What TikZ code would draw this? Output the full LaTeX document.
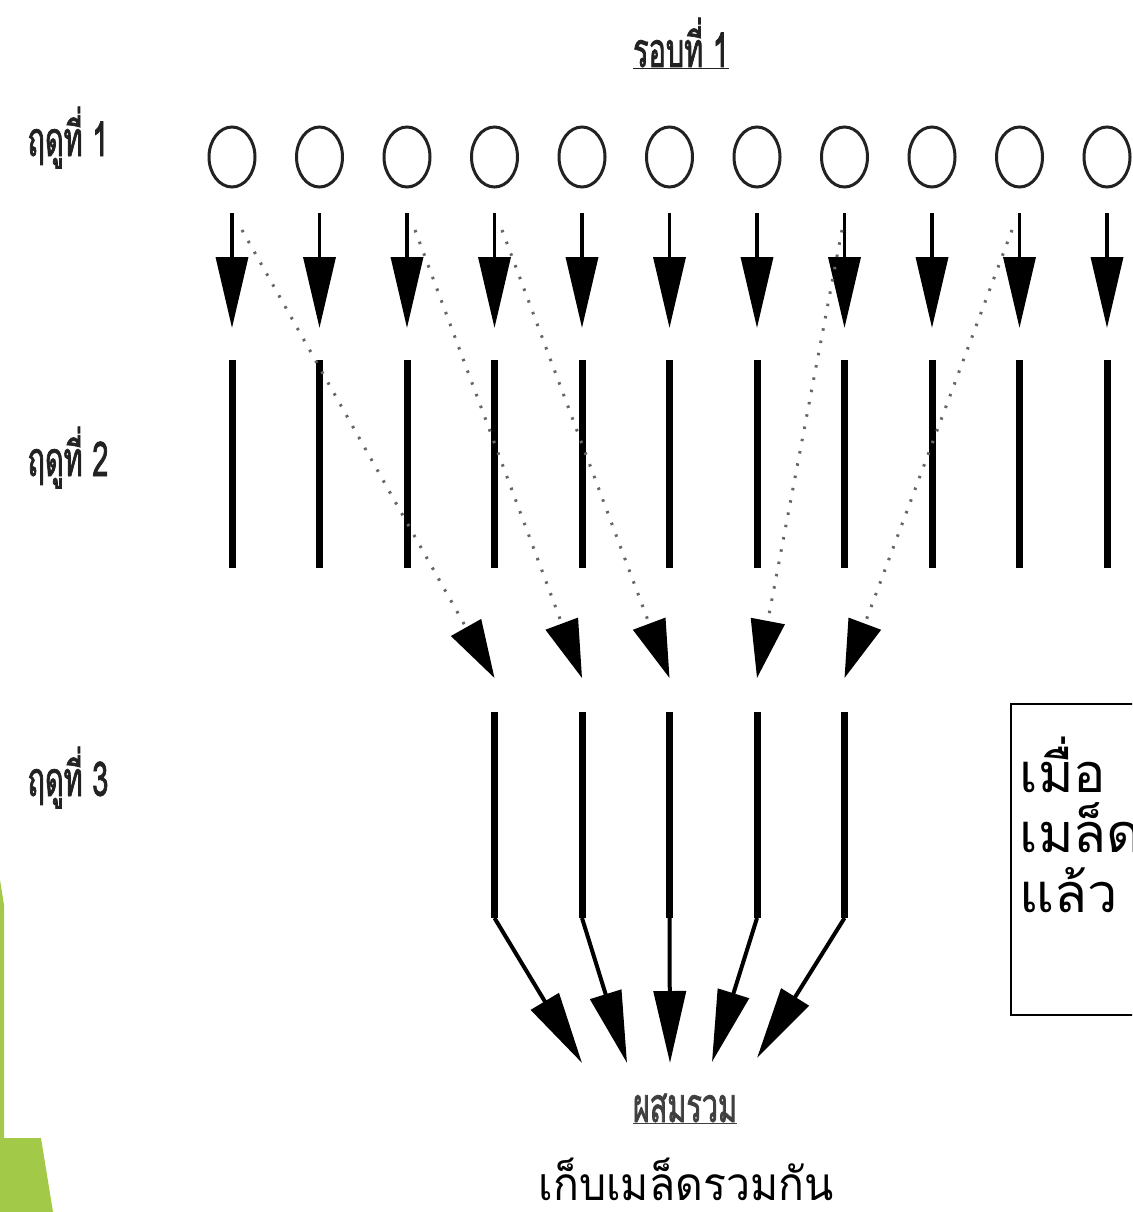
\documentclass[tikz,border=0pt]{standalone}
\usepackage{fontspec}
\newfontfamily\thai[Script=Thai]{Loma}
\newfontfamily\thaiwide[Script=Thai,FakeStretch=0.93]{Loma}
\newfontfamily\thaicond[Script=Thai,FakeStretch=0.6,FakeBold=1.5]{Loma}
\usetikzlibrary{arrows.meta,shapes.geometric}
\definecolor{leafgreen}{HTML}{A2C948}
\definecolor{ink}{HTML}{222222}

\begin{document}
\begin{tikzpicture}[x=1pt,y=-1pt,
  seed/.style={ellipse,draw=ink,line width=3pt,minimum width=46pt,minimum height=60pt,inner sep=0pt},
  drop/.style={draw=black,line width=3.5pt,-{Triangle[length=71pt,width=32pt]}},
  plant/.style={draw=black,line width=7pt},
  cross/.style={draw=black!60,line width=3pt,dash pattern=on 2.5pt off 10pt,
                -{Triangle[length=58pt,width=34pt,color=black,fill=black]}},
  merge/.style={draw=black,line width=4pt,-{Triangle[length=72pt,width=32pt]}},
  season/.style={font=\thaicond\fontsize{48}{48}\selectfont,text=ink,anchor=base},
  caption/.style={font=\thaiwide\fontsize{46}{46}\selectfont,text=black,anchor=base},
  note/.style={font=\thai\fontsize{54}{54}\selectfont,text=black,anchor=base west},
]
\clip (0,0) rectangle (1132,1212);
\fill[white] (0,0) rectangle (1132,1212);
\useasboundingbox (0,0) rectangle (1132,1212);

% green slide decoration, bottom left
\fill[leafgreen] (0,880) -- (4,905) -- (4,1138) -- (41,1138) -- (53,1212) -- (0,1212) -- cycle;

% heading and season labels
\node[season] (round) at (681,67) {\underline{รอบที่ 1}};
\node[season] (s1) at (68,156) {ฤดูที่ 1};
\node[season] (s2) at (68,476) {ฤดูที่ 2};
\node[season] (s3) at (68,796) {ฤดูที่ 3};

% season 1: seeds, downward arrows, season 2: plants
\foreach \i in {1,...,11} {
  \pgfmathsetmacro\cx{232+87.5*(\i-1)}
  \node[seed] (seed\i) at (\cx,157) {};
  \coordinate (top\i) at (\cx,213);
  \coordinate (tip\i) at (\cx,328);
  \coordinate (pa\i) at (\cx,360);
  \coordinate (pb\i) at (\cx,568);
  \draw[drop] (top\i) -- (tip\i);
  \draw[plant] (pa\i) -- (pb\i);
}

% season 3: plants grown from crossed seed
\foreach \i in {4,...,8} {
  \pgfmathsetmacro\cx{232+87.5*(\i-1)}
  \coordinate (ct\i) at (\cx,678);
  \coordinate (qa\i) at (\cx,712);
  \coordinate (qb\i) at (\cx,918);
  \draw[plant] (qa\i) -- (qb\i);
}

% crossing paths (dotted)
\coordinate (d1) at (242,230);
\coordinate (d3) at (415,230);
\coordinate (d4) at (502,230);
\coordinate (d8) at (842,230);
\coordinate (d10) at (1012,230);
\draw[cross] (d1) -- (ct4);
\draw[cross] (d3) -- (ct5);
\draw[cross] (d4) -- (ct6);
\draw[cross] (d8) -- (ct7);
\draw[cross] (d10) -- (ct8);

% harvest: all five merged
\coordinate (m4) at (582,1063);
\coordinate (m5) at (627,1063);
\coordinate (m6) at (670,1063);
\coordinate (m7) at (712,1062);
\coordinate (m8) at (757,1058);
\foreach \i in {4,...,8} {
  \draw[merge] (qb\i) -- (m\i);
}

\node[season,text=black!75] (mix) at (685,1122) {\underline{ผสมรวม}};
\node[caption] (keep) at (686,1200) {เก็บเมล็ดรวมกัน};

% note box at the right
\draw[line width=1.5pt] (1011,704) rectangle (1160,1015);
\node[note] (n1) at (1016,792) {เมื่อ};
\node[note] (n2) at (1016,852) {เมล็ด};
\node[note] (n3) at (1016,912) {แล้ว};
\end{tikzpicture}
\end{document}
